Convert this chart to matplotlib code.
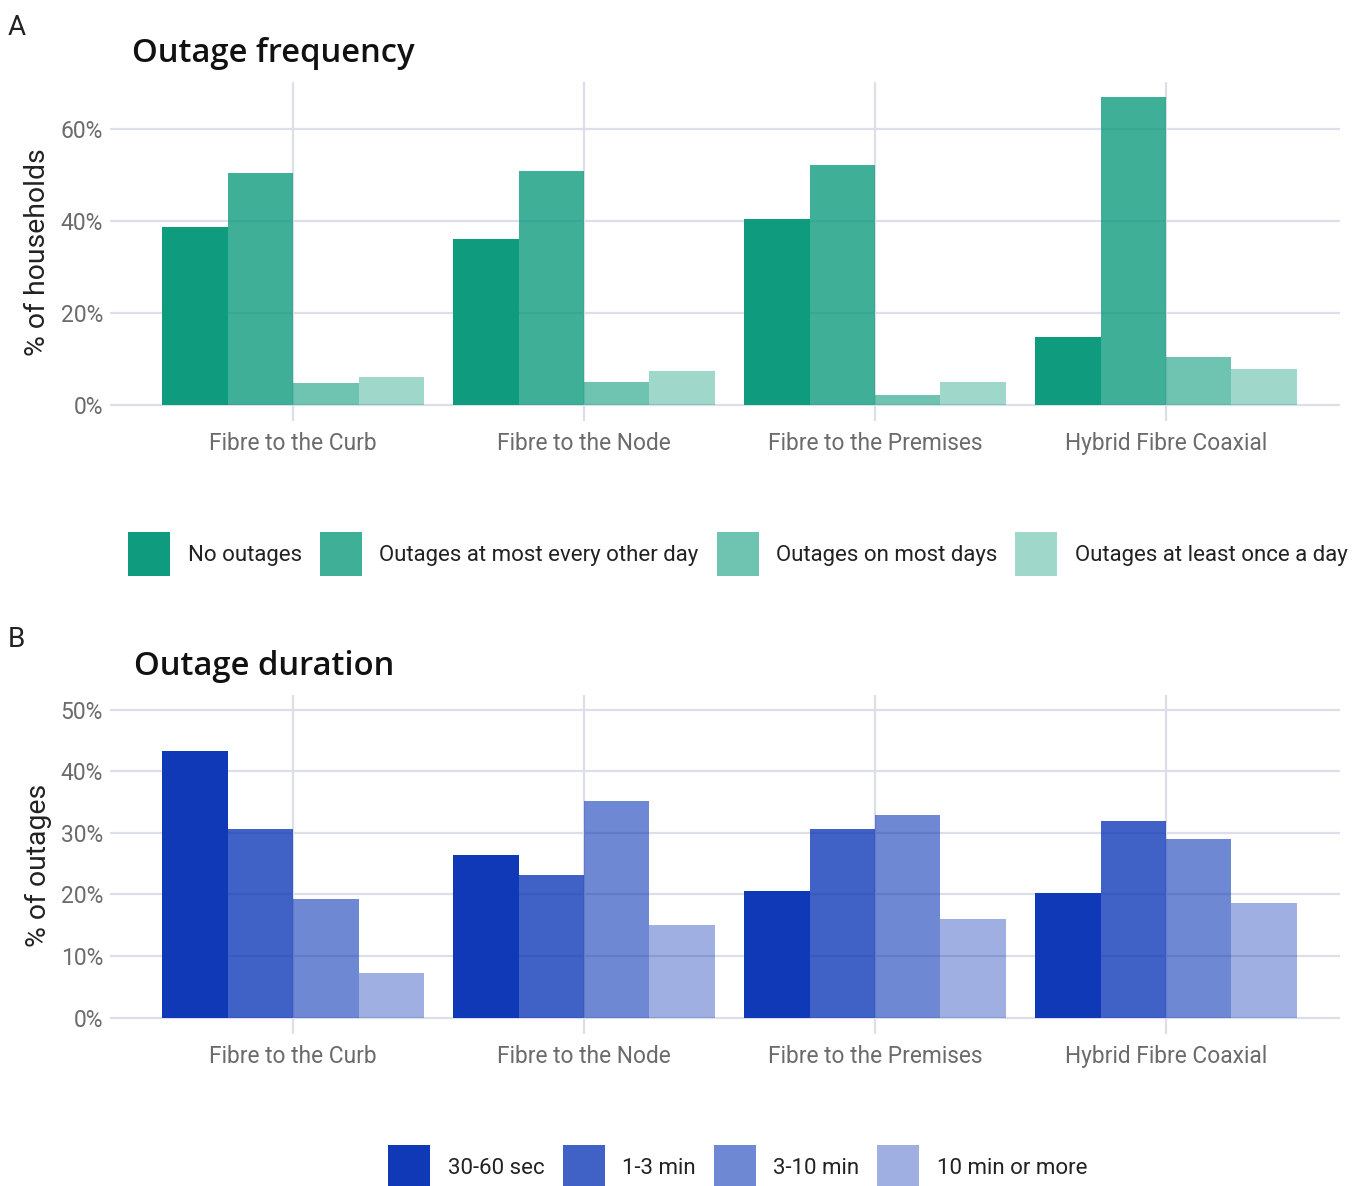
import matplotlib
matplotlib.use("Agg")
import matplotlib.pyplot as plt
import numpy as np
from matplotlib.ticker import FuncFormatter

# ---------------- data ----------------
categories = ["Fibre to the Curb", "Fibre to the Node", "Fibre to the Premises", "Hybrid Fibre Coaxial"]

freq_labels = ["No outages", "Outages at most every other day", "Outages on most days", "Outages at least once a day"]
freq_no_outages = [38.7, 36.0, 40.4, 14.7]
freq_every_other_day = [50.4, 50.9, 52.1, 67.0]
freq_most_days = [4.7, 5.1, 2.2, 10.4]
freq_once_a_day = [6.1, 7.3, 5.1, 7.8]

dur_labels = ["30-60 sec", "1-3 min", "3-10 min", "10 min or more"]
dur_30_60s = [43.3, 26.4, 20.5, 20.2]
dur_1_3m = [30.7, 23.1, 30.6, 31.9]
dur_3_10m = [19.2, 35.2, 32.9, 29.0]
dur_10m_plus = [7.2, 15.0, 16.0, 18.6]

freq_ticks = [0, 20, 40, 60]
dur_ticks = [0, 10, 20, 30, 40, 50]

green = "#0F9B7D"
blue = "#1039B7"
alphas = [1.0, 0.8, 0.6, 0.4]

# ---------------- figure ----------------
W, H = 1368, 1186
fig = plt.figure(figsize=(W / 100, H / 100), dpi=100)

FONT = ["Roboto", "DejaVu Sans"]
TITLE_FONT = ["Open Sans", "DejaVu Sans"]
GRID = "#DCDFEA"
TICKC = "#6B6B6B"
TEXTC = "#222222"


def px_axes(left, top, right, bottom):
    return fig.add_axes([left / W, 1 - bottom / H, (right - left) / W, (bottom - top) / H])


def draw_panel(ax, series, labels, color, ticks, ylim):
    x = np.arange(len(categories))
    n = len(series)
    width = 0.9 / n
    for i, (vals, lab) in enumerate(zip(series, labels)):
        offs = (i - (n - 1) / 2) * width
        ax.bar(x + offs, vals, width=width, color=color, alpha=alphas[i], label=lab,
               linewidth=0, zorder=3)
    ax.set_xlim(-0.629, 3.598)
    ax.set_ylim(*ylim)
    ax.set_xticks(x)
    ax.set_xticklabels(categories, fontsize=16.4, color=TICKC, family=FONT)
    ax.set_yticks(ticks)
    ax.yaxis.set_major_formatter(FuncFormatter(lambda v, p: f"{int(v)}%"))
    for t in ax.get_yticklabels():
        t.set_family(FONT)
        t.set_fontsize(16.5)
        t.set_color(TICKC)
    ax.grid(True, color=GRID, linewidth=1.6, zorder=0)
    ax.set_axisbelow(True)
    for s in ax.spines.values():
        s.set_visible(False)
    ax.tick_params(axis="x", length=9, width=1.6, color=GRID, pad=8)
    ax.tick_params(axis="y", length=0, pad=5)
    ax.set_facecolor("white")


# Panel A
axA = px_axes(110, 82, 1340, 408)
draw_panel(axA, [freq_no_outages, freq_every_other_day, freq_most_days, freq_once_a_day],
           freq_labels, green, freq_ticks, (-0.65, 70.2))

# Panel B
axB = px_axes(110, 695, 1340, 1021)
draw_panel(axB, [dur_30_60s, dur_1_3m, dur_3_10m, dur_10m_plus],
           dur_labels, blue, dur_ticks, (-0.55, 52.4))

# Titles and labels
fig.text(8 / W, 1 - 35 / H, "A", fontsize=20, family=FONT, va="baseline", ha="left", color=TEXTC)
fig.text(8 / W, 1 - 647 / H, "B", fontsize=20, family=FONT, va="baseline", ha="left", color=TEXTC)
fig.text(132 / W, 1 - 62 / H, "Outage frequency", fontsize=23.6, family=TITLE_FONT,
         weight="semibold", va="baseline", ha="left", color="#111111")
fig.text(134 / W, 1 - 675 / H, "Outage duration", fontsize=23.6, family=TITLE_FONT,
         weight="semibold", va="baseline", ha="left", color="#111111")
fig.text(38 / W, 1 - 252 / H, "% of households", fontsize=20.4, family=FONT, rotation=90,
         va="center", ha="center", color=TEXTC)
fig.text(38 / W, 1 - 865 / H, "% of outages", fontsize=20.4, family=FONT, rotation=90,
         va="center", ha="center", color=TEXTC)

# Legends
LEG_FS = 16.0
hl = 42 / (LEG_FS * 100 / 72)
hh = 42 / (LEG_FS * 100 / 72 * 0.7)
for ax, cy in [(axA, 554), (axB, 1167)]:
    h, l = ax.get_legend_handles_labels()
    leg = fig.legend(h, l, loc="center", bbox_to_anchor=(738 / W, 1 - cy / H), ncol=4,
                     frameon=False, prop={"family": FONT, "size": LEG_FS},
                     handlelength=hl, handleheight=hh, handletextpad=0.8,
                     columnspacing=0.8, borderaxespad=0, borderpad=0, labelcolor=TEXTC)

fig.savefig("out.png", dpi=100, facecolor="white")
